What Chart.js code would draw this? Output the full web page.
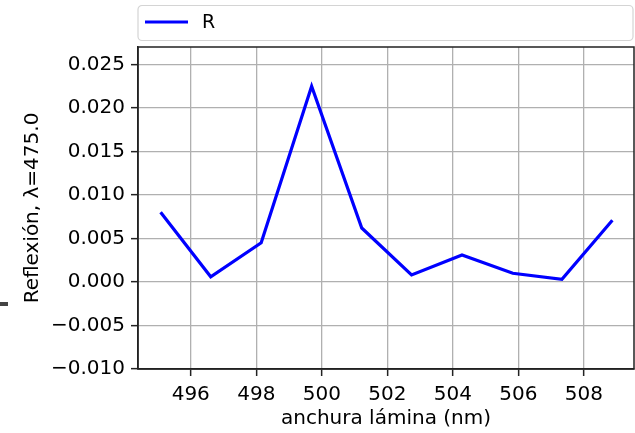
<!DOCTYPE html>
<html>
<head>
<meta charset="utf-8">
<script src="https://cdn.jsdelivr.net/npm/chart.js@4/dist/chart.umd.min.js"></script>
<style>
  html, body { margin: 0; padding: 0; background: #fff; }
  #wrap { width: 635px; height: 433px; }
</style>
</head>
<body>
<div id="wrap"><canvas id="chart"></canvas></div>
<script>
// anchura de lámina (nm) y reflexión
var anchura = [495.08, 496.61, 498.15, 499.69, 501.22, 502.74, 504.28, 505.83, 507.33, 508.87];
var reflexion = [0.0080, 0.0006, 0.0045, 0.0225, 0.0062, 0.0008, 0.0031, 0.0010, 0.0003, 0.0071];
var xTicks = [496, 498, 500, 502, 504, 506, 508];
var yTicks = [-0.010, -0.005, 0.000, 0.005, 0.010, 0.015, 0.020, 0.025];

var FONT = 'DejaVu Sans';

function minus(s) { return s.replace('-', '\u2212'); }

// marco completo + leyenda con borde redondeado, al estilo matplotlib
var framePlugin = {
    id: 'frame',
    afterDraw: function(chart) {
        var c = chart.ctx, a = chart.chartArea;
        c.save();
        c.strokeStyle = '#222';
        c.lineWidth = 1.5;
        c.strokeRect(a.left, a.top, a.right - a.left, a.bottom - a.top);

        // leyenda
        var x0 = 138, y0 = 5.5, w = 495, h = 35, r = 4;
        c.strokeStyle = '#d4d4d4';
        c.lineWidth = 1.2;
        c.fillStyle = 'rgba(255,255,255,0.8)';
        c.beginPath();
        c.roundRect(x0, y0, w, h, r);
        c.fill();
        c.stroke();
        chart.data.datasets.forEach(function(ds, i) {
            var ly = 22 + i * 24;
            c.strokeStyle = ds.borderColor;
            c.lineWidth = ds.borderWidth;
            c.beginPath();
            c.moveTo(145, ly);
            c.lineTo(188, ly);
            c.stroke();
            c.fillStyle = '#000';
            c.font = '19px ' + FONT;
            c.textBaseline = 'middle';
            c.fillText(ds.label, 202, ly + 1);
        });

        // pequeña marca en el borde izquierdo
        c.fillStyle = '#444';
        c.fillRect(0, 302, 8, 4);
        c.restore();
    }
};

var ctx = document.getElementById('chart').getContext('2d');
new Chart(ctx, {
    type: 'line',
    data: {
        datasets: [{
            label: 'R',
            data: anchura.map(function(x, i) { return { x: x, y: reflexion[i] }; }),
            borderColor: '#0000ff',
            backgroundColor: '#0000ff',
            borderWidth: 3.2,
            pointRadius: 0,
            tension: 0,
            fill: false
        }]
    },
    options: {
        responsive: true,
        maintainAspectRatio: false,
        animation: false,
        layout: { padding: { top: 47, right: 1, left: 0, bottom: 0 } },
        plugins: {
            legend: { display: false },
            tooltip: { enabled: false }
        },
        scales: {
            x: {
                type: 'linear',
                min: 494.39,
                max: 509.53,
                afterBuildTicks: function(s) { s.ticks = xTicks.map(function(v) { return { value: v }; }); },
                afterFit: function(s) { s.height = 64; },
                grid: { color: '#b0b0b0', lineWidth: 1.3, tickColor: '#222', tickLength: 7, tickWidth: 1.5 },
                border: { display: true, color: '#222', width: 1.5 },
                ticks: {
                    color: '#000',
                    font: { family: FONT, size: 20 },
                    padding: 7,
                    maxRotation: 0,
                    callback: function(v) { return String(v); }
                },
                title: {
                    display: true,
                    text: 'anchura lámina (nm)',
                    color: '#000',
                    font: { family: FONT, size: 20 },
                    padding: { top: 0, bottom: 2 }
                }
            },
            y: {
                type: 'linear',
                min: -0.010,
                max: 0.027,
                afterBuildTicks: function(s) { s.ticks = yTicks.map(function(v) { return { value: v }; }); },
                afterFit: function(s) { s.width = 138; },
                grid: { color: '#b0b0b0', lineWidth: 1.3, tickColor: '#222', tickLength: 7, tickWidth: 1.5 },
                border: { display: true, color: '#222', width: 1.5 },
                ticks: {
                    color: '#000',
                    font: { family: FONT, size: 20 },
                    padding: 6,
                    callback: function(v) { return minus(v.toFixed(3)); }
                },
                title: {
                    display: true,
                    text: 'Reflexión, λ=475.0',
                    color: '#000',
                    font: { family: FONT, size: 20 },
                    padding: { top: 21, bottom: 0 }
                }
            }
        }
    },
    plugins: [framePlugin]
});
</script>
</body>
</html>
